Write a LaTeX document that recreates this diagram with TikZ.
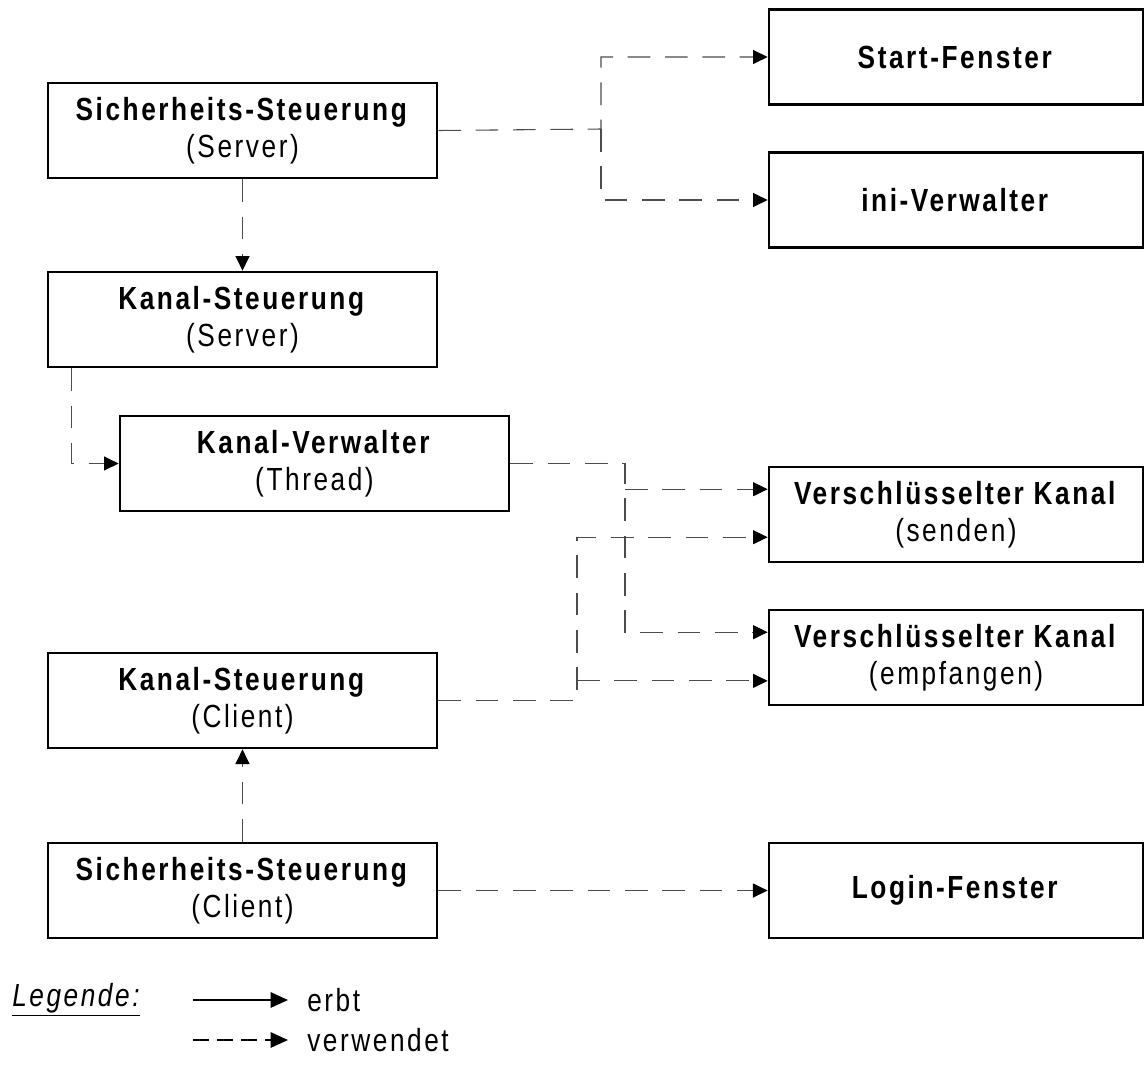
\documentclass[tikz,border=0pt]{standalone}
\usepackage{fontspec}
\setmainfont{Liberation Sans}[FakeStretch=0.82,LetterSpace=8]
\usetikzlibrary{positioning,arrows.meta}

\begin{document}
\begin{tikzpicture}[x=0.75pt,y=-0.75pt]
    \useasboundingbox (0,0) rectangle (1145,1079);
    \begin{scope}[node distance=141.75pt, on grid, >={Triangle[length=11pt,width=10.5pt,color=black]},
    		font=\fontsize{24}{27.75}\selectfont,
    		block/.style={rectangle,draw,line width=2pt,minimum width=291.75pt,minimum height=71.25pt,inner sep=0pt,align=center},
    		target/.style={block,minimum width=280.5pt},
    		label/.style={inner sep=0pt,anchor=west},
    		use/.style={black!70,line width=0.8pt,dash pattern=on 17pt off 11pt,->},
    		inherit/.style={black,line width=1.4pt,->}]
    
    % server side
    \node[block](sss) at (242.5,130.5)
    {\textbf{Sicherheits-Steuerung}\\(Server)};
    \node[block,below=of sss](kss)
    {\textbf{Kanal-Steuerung}\\(Server)};
    \node[block,xshift=54pt,node distance=108pt,below=of kss](kv)
    {\textbf{Kanal-Verwalter}\\(Thread)};
    
    % client side
    \node[block,node distance=285.75pt,below=of kss](ksc)
    {\textbf{Kanal-Steuerung}\\(Client)};
    \node[block,node distance=142.5pt,below=of ksc](ssc)
    {\textbf{Sicherheits-Steuerung}\\(Client)};
    
    % right column
    \node[target](start) at (956,57)
    {\textbf{Start-Fenster}};
    \node[target,node distance=107.25pt,below=of start](ini)
    {\textbf{ini-Verwalter}};
    \node[target,node distance=235.9pt,below=of ini](vks)
    {\textbf{Verschlüsselter Kanal}\\(senden)};
    \node[target,node distance=107.25pt,below=of vks](vke)
    {\textbf{Verschlüsselter Kanal}\\(empfangen)};
    \node[target,node distance=535.1pt,right=of ssc](login)
    {\textbf{Login-Fenster}};
    
    % junctions
    \coordinate (js) at (601,129);
    \coordinate (jk) at (625,463.5);
    \coordinate (jc) at (577,705);
    \coordinate (vksA) at ([yshift=19pt]vks.west);
    \coordinate (vksB) at ([yshift=-17pt]vks.west);
    \coordinate (vkeA) at ([yshift=19pt]vke.west);
    \coordinate (vkeB) at ([yshift=-17.5pt]vke.west);
    
    \draw[use] (sss.east) -- (js) |- (start.west);
    \draw[use] (js) |- (ini.west);
    \draw[use] (sss) -- (kss);
    \draw[use] ([xshift=18.75pt]kss.south west) |- (kv.west);
    \draw[use] (kv.east) -- (jk) |- (vkeA);
    \draw[use] (jk |- vksA) -- (vksA);
    \draw[use] (ksc.east) -- (ksc.east -| jc) |- (vksB);
    \draw[use] (jc |- vkeB) -- (vkeB);
    \draw[use] (ssc) -- (ksc);
    \draw[use] (ssc) -- (login);
    
    % legend
    \node[label](legende) at (12,1000) {\textit{\underline{Legende:}}};
    \coordinate (erbtA) at (193,1000);
    \coordinate (erbtB) at (288,1000);
    \coordinate (verwA) at (193,1040);
    \coordinate (verwB) at (288,1040);
    \draw[inherit,-{Triangle[length=13pt,width=11.5pt]}] (erbtA) -- (erbtB);
    \draw[inherit,dash pattern=on 12pt off 6pt,-{Triangle[length=13pt,width=11.5pt]}] (verwA) -- (verwB);
    \node[label](erbt) at (307,1000) {erbt};
    \node[label](verw) at (307,1040) {verwendet};
    
    \end{scope}
\end{tikzpicture}
\end{document}
